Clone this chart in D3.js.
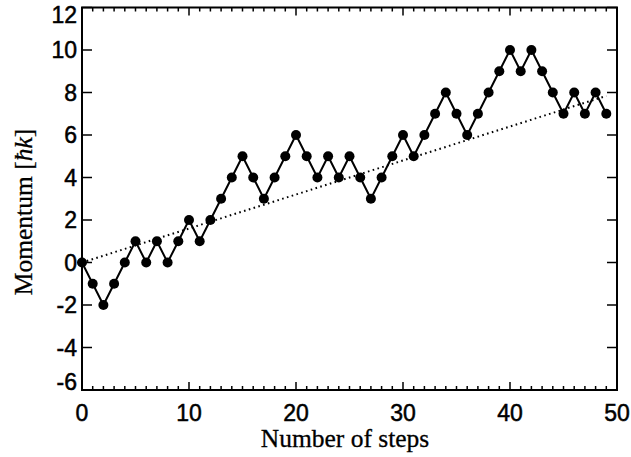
<!DOCTYPE html>
<html lang="en">
<head>
  <meta charset="UTF-8">
  <title>Momentum random walk</title>
  <script src="https://d3js.org/d3.v7.min.js"></script>
  <style>
    body { margin: 0; padding: 0; background: #fff; }
    svg { display: block; }
    .tick-label { font-family: 'Liberation Sans', Arial, sans-serif; font-size: 23px; fill: #000; stroke: #000; stroke-width: 0.5px; }
    .axis-title { font-family: 'Liberation Serif', 'Times New Roman', serif; font-size: 25.5px; fill: #000; stroke: #000; stroke-width: 0.3px; }
  </style>
</head>
<body>
  <script>
    // step number and momentum (in units of hbar k)
    var steps = d3.range(0, 50);
    var momentum = [0, -1, -2, -1, 0, 1, 0, 1, 0, 1,
                    2, 1, 2, 3, 4, 5, 4, 3, 4, 5,
                    6, 5, 4, 5, 4, 5, 4, 3, 4, 5,
                    6, 5, 6, 7, 8, 7, 6, 7, 8, 9,
                    10, 9, 10, 9, 8, 7, 8, 7, 8, 7];
    // dotted trend line
    var trendX = [0, 49];
    var trendY = [0, 7.84];

    var xTicks = [0, 10, 20, 30, 40, 50];
    var yTicks = [-6, -4, -2, 0, 2, 4, 6, 8, 10, 12];

    var W = 631, H = 457;
    var margin = { left: 82, right: 14, top: 7.5, bottom: 67 };

    var svg = d3.select("body").append("svg")
        .attr("width", W)
        .attr("height", H);

    var x = d3.scaleLinear().domain([0, 50]).range([margin.left, W - margin.right]);
    var y = d3.scaleLinear().domain([-6, 12]).range([H - margin.bottom, margin.top]);

    var x0 = x.range()[0], x1 = x.range()[1];
    var y0 = y.range()[0], y1 = y.range()[1];

    // ticks (inward), drawn on all four sides
    var tickG = svg.append("g").attr("stroke", "#000").attr("stroke-width", 1.5);
    d3.range(0, 51).forEach(function(v) {
      var len = v % 10 === 0 ? 8 : 4;
      tickG.append("line").attr("x1", x(v)).attr("x2", x(v)).attr("y1", y0).attr("y2", y0 - len);
      tickG.append("line").attr("x1", x(v)).attr("x2", x(v)).attr("y1", y1).attr("y2", y1 + len);
    });
    yTicks.forEach(function(v) {
      tickG.append("line").attr("x1", x0).attr("x2", x0 + 10).attr("y1", y(v)).attr("y2", y(v));
      tickG.append("line").attr("x1", x1).attr("x2", x1 - 10).attr("y1", y(v)).attr("y2", y(v));
    });

    // frame
    svg.append("rect")
        .attr("x", x0).attr("y", y1)
        .attr("width", x1 - x0).attr("height", y0 - y1)
        .attr("fill", "none").attr("stroke", "#000").attr("stroke-width", 2);

    // tick labels
    svg.selectAll(".xl").data(xTicks).enter().append("text")
        .attr("class", "tick-label")
        .attr("x", function(d) { return x(d); })
        .attr("y", y0 + 31)
        .attr("text-anchor", "middle")
        .text(function(d) { return d; });

    // end labels are pulled inside the frame so they are not clipped
    svg.selectAll(".yl").data(yTicks).enter().append("text")
        .attr("class", "tick-label")
        .attr("x", x0 - 5)
        .attr("y", function(d) {
          var p = y(d);
          if (d === 12) p += 7.5;
          if (d === -6) p -= 8;
          return p;
        })
        .attr("dy", "0.36em")
        .attr("text-anchor", "end")
        .text(function(d) { return d; });

    // axis titles
    svg.append("text")
        .attr("class", "axis-title")
        .attr("x", 345)
        .attr("y", 447)
        .attr("text-anchor", "middle")
        .text("Number of steps");

    var yt = svg.append("text")
        .attr("class", "axis-title")
        .attr("transform", "translate(32," + 212 + ") rotate(-90)")
        .attr("text-anchor", "middle");
    yt.append("tspan").text("Momentum [");
    yt.append("tspan").attr("font-style", "italic").text("ħk");
    yt.append("tspan").text("]");

    // dotted trend line
    svg.append("path")
        .datum(d3.zip(trendX, trendY))
        .attr("fill", "none")
        .attr("stroke", "#000")
        .attr("stroke-width", 2)
        .attr("stroke-dasharray", "1.6,3.4")
        .attr("d", d3.line().x(function(d) { return x(d[0]); }).y(function(d) { return y(d[1]); }));

    // walk
    var pts = d3.zip(steps, momentum);
    svg.append("path")
        .datum(pts)
        .attr("fill", "none")
        .attr("stroke", "#000")
        .attr("stroke-width", 2)
        .attr("d", d3.line().x(function(d) { return x(d[0]); }).y(function(d) { return y(d[1]); }));

    svg.selectAll(".pt").data(pts).enter().append("circle")
        .attr("cx", function(d) { return x(d[0]); })
        .attr("cy", function(d) { return y(d[1]); })
        .attr("r", 5)
        .attr("fill", "#000");
  </script>
</body>
</html>
